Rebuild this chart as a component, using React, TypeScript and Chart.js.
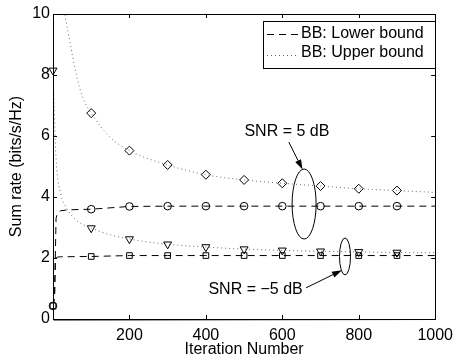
import React, { useEffect, useRef } from "react";
import { Chart, registerables } from "chart.js";

Chart.register(...registerables);

// ---- data ----
const markerIters = [0, 100, 200, 300, 400, 500, 600, 700, 800, 900];
const ub5Markers = [null, 6.75, 5.52, 5.05, 4.73, 4.56, 4.45, 4.36, 4.27, 4.21];
const lb5Markers = [0.43, 3.6, 3.69, 3.7, 3.7, 3.7, 3.7, 3.7, 3.7, 3.7];
const ubm5Markers = [8.15, 2.98, 2.62, 2.45, 2.36, 2.29, 2.25, 2.22, 2.2, 2.18];
const lbm5Markers = [0.43, 2.05, 2.08, 2.08, 2.08, 2.08, 2.08, 2.08, 2.08, 2.08];

const ub5Iters = [26, 31, 44, 61, 78, 100, 150, 200, 300, 400, 500, 600, 700, 800, 900, 1000];
const ub5Curve = [10.5, 10.0, 9.1, 8.0, 7.25, 6.75, 5.95, 5.52, 5.05, 4.73, 4.56, 4.45, 4.36, 4.27, 4.21, 4.15];

const ubm5Iters = [0, 3, 6, 10, 20, 35, 60, 100, 150, 200, 300, 400, 500, 600, 700, 800, 900, 1000];
const ubm5Curve = [8.15, 7.0, 5.8, 4.9, 4.1, 3.65, 3.25, 2.98, 2.76, 2.62, 2.45, 2.36, 2.29, 2.25, 2.22, 2.2, 2.18, 2.17];

const lb5Iters = [0, 4, 6, 8, 12, 20, 40, 100, 200, 300, 400, 500, 600, 700, 800, 900, 1000];
const lb5Curve = [0.43, 0.7, 2.0, 3.3, 3.48, 3.55, 3.58, 3.6, 3.69, 3.7, 3.7, 3.7, 3.7, 3.7, 3.7, 3.7, 3.7];

const lbm5Iters = [0, 4, 6, 8, 12, 20, 100, 200, 300, 400, 500, 600, 700, 800, 900, 1000];
const lbm5Curve = [0.43, 0.7, 1.8, 2.0, 2.03, 2.04, 2.05, 2.08, 2.08, 2.08, 2.08, 2.08, 2.08, 2.08, 2.08, 2.08];

const xTickValues = [200, 400, 600, 800, 1000];
const yTickValues = [0, 2, 4, 6, 8, 10];

const legendLabels = ["BB: Lower bound", "BB: Upper bound"];
const xTitle = "Iteration Number";
const yTitle = "Sum rate (bits/s/Hz)";
const snrHigh = "SNR = 5 dB";
const snrLow = "SNR = \u22125 dB";

const FONT = "Liberation Sans, Arial, Helvetica, sans-serif";
const DOT = "#6a6a6a";

const pts = (xs: number[], ys: (number | null)[]) => xs.map((x, i) => ({ x, y: ys[i] }));

function arrow(ctx: CanvasRenderingContext2D, x1: number, y1: number, x2: number, y2: number) {
  const ang = Math.atan2(y2 - y1, x2 - x1);
  const len = 10, w = 3.2;
  const bx = x2 - len * Math.cos(ang), by = y2 - len * Math.sin(ang);
  ctx.beginPath();
  ctx.moveTo(x1, y1);
  ctx.lineTo(bx, by);
  ctx.stroke();
  ctx.beginPath();
  ctx.moveTo(x2, y2);
  ctx.lineTo(bx + w * Math.sin(ang), by - w * Math.cos(ang));
  ctx.lineTo(bx - w * Math.sin(ang), by + w * Math.cos(ang));
  ctx.closePath();
  ctx.fill();
}

const decorPlugin = {
  id: "decor",
  afterDraw(chart: any) {
    const ctx: CanvasRenderingContext2D = chart.ctx;
    const { left, right, top, bottom } = chart.chartArea;
    const xs = chart.scales.x, ys = chart.scales.y;
    ctx.save();
    ctx.strokeStyle = "#000";
    ctx.fillStyle = "#000";
    ctx.lineWidth = 1;
    ctx.setLineDash([]);
    // box
    ctx.strokeRect(Math.round(left) + 0.5, Math.round(top) + 0.5, Math.round(right - left), Math.round(bottom - top));
    ctx.beginPath();
    ctx.moveTo(Math.round(left) + 0.5, Math.round(top));
    ctx.lineTo(Math.round(left) + 0.5, Math.round(bottom) + 1);
    ctx.lineTo(Math.round(right) + 1, Math.round(bottom) + 0.5);
    ctx.stroke();
    // ticks inside
    const tl = 4;
    ctx.beginPath();
    xTickValues.forEach((v) => {
      const px = Math.round(xs.getPixelForValue(v)) + 0.5;
      ctx.moveTo(px, bottom); ctx.lineTo(px, bottom - tl);
      ctx.moveTo(px, top); ctx.lineTo(px, top + tl);
    });
    yTickValues.forEach((v) => {
      const py = Math.round(ys.getPixelForValue(v)) + 0.5;
      ctx.moveTo(left, py); ctx.lineTo(left + tl, py);
      ctx.moveTo(right, py); ctx.lineTo(right - tl, py);
    });
    ctx.stroke();

    // axis titles
    ctx.font = `16px ${FONT}`;
    ctx.textAlign = "center";
    ctx.textBaseline = "middle";
    ctx.fillText(xTitle, (left + right) / 2, 350);
    ctx.save();
    ctx.translate(17, (top + bottom) / 2);
    ctx.rotate(-Math.PI / 2);
    ctx.fillText(yTitle, 0, 0);
    ctx.restore();

    // legend
    const bx = 263.5, by = 21.5, bw = 172, bh = 47;
    ctx.fillStyle = "#fff";
    ctx.fillRect(bx, by, bw, bh);
    ctx.strokeStyle = "#000";
    ctx.strokeRect(bx, by, bw, bh);
    ctx.fillStyle = "#000";
    ctx.font = `16px ${FONT}`;
    ctx.textAlign = "left";
    const rows = [34, 53];
    ctx.setLineDash([7, 5]);
    ctx.beginPath();
    ctx.moveTo(267, rows[0] + 0.5); ctx.lineTo(299, rows[0] + 0.5);
    ctx.stroke();
    ctx.setLineDash([1, 3]);
    ctx.strokeStyle = DOT;
    ctx.beginPath();
    ctx.moveTo(267, rows[1] + 2.5); ctx.lineTo(299, rows[1] + 2.5);
    ctx.stroke();
    ctx.setLineDash([]);
    ctx.strokeStyle = "#000";
    ctx.fillText(legendLabels[0], 301, rows[0]);
    ctx.fillText(legendLabels[1], 301, rows[1]);

    // annotations
    const X = (v: number) => xs.getPixelForValue(v);
    const Y = (v: number) => ys.getPixelForValue(v);
    ctx.textAlign = "center";
    ctx.font = `16px ${FONT}`;
    ctx.fillText(snrHigh, X(612), Y(6.13));
    ctx.beginPath();
    ctx.ellipse(X(657), Y(3.77), 12, 35, 0, 0, Math.PI * 2);
    ctx.stroke();
    arrow(ctx, X(617), Y(5.8), X(653), Y(4.9));

    ctx.fillText(snrLow, X(530), Y(0.98));
    ctx.beginPath();
    ctx.ellipse(X(764), Y(2.05), 5.5, 18.5, 0, 0, Math.PI * 2);
    ctx.stroke();
    arrow(ctx, X(662), Y(1.02), X(756), Y(1.6));
    ctx.restore();
  },
};

export default function App() {
  const ref = useRef<HTMLCanvasElement | null>(null);
  useEffect(() => {
    document.body.style.margin = "0";
    const canvas = ref.current!;
    const lineBase = { pointRadius: 0, fill: false, borderWidth: 1 };
    const markerBase = {
      showLine: false,
      clip: false,
      borderColor: "#000",
      backgroundColor: "rgba(0,0,0,0)",
      pointBorderWidth: 1,
      pointBackgroundColor: "rgba(0,0,0,0)",
      pointBorderColor: "#000",
    };
    const chart = new Chart(canvas, {
      type: "line",
      data: {
        datasets: [
          { ...lineBase, data: pts(lb5Iters, lb5Curve), borderColor: "#000", borderDash: [7, 5], tension: 0 },
          { ...lineBase, data: pts(lbm5Iters, lbm5Curve), borderColor: "#000", borderDash: [7, 5], tension: 0 },
          { ...lineBase, data: pts(ub5Iters, ub5Curve), borderColor: DOT, borderDash: [1, 3], cubicInterpolationMode: "monotone" },
          { ...lineBase, data: pts(ubm5Iters, ubm5Curve), borderColor: DOT, borderDash: [1, 3], cubicInterpolationMode: "monotone" },
          { ...markerBase, data: pts(markerIters, ub5Markers), pointStyle: "rectRot", pointRadius: 4.5 },
          { ...markerBase, data: pts(markerIters, lb5Markers), pointStyle: "circle", pointRadius: 3.8 },
          { ...markerBase, data: pts(markerIters, ubm5Markers), pointStyle: "triangle", pointRotation: 180, pointRadius: 4.6 },
          { ...markerBase, data: pts(markerIters, lbm5Markers), pointStyle: "rect", pointRadius: 4 },
        ] as any,
      },
      options: {
        animation: false,
        responsive: false,
        maintainAspectRatio: false,
        layout: { padding: { top: 14, right: 20, left: 0, bottom: 0 } },
        plugins: { legend: { display: false }, tooltip: { enabled: false } },
        scales: {
          x: {
            type: "linear",
            min: 0,
            max: 1000,
            grid: { display: false, drawTicks: false },
            border: { display: false },
            ticks: { stepSize: 200, padding: 7, color: "#000", font: { family: FONT, size: 16 }, maxRotation: 0, callback: (v: any) => (v === 0 ? "" : String(v)) },
            afterFit: (s: any) => { s.height = 39; },
          },
          y: {
            min: 0,
            max: 10,
            grid: { display: false, drawTicks: false },
            border: { display: false },
            ticks: { stepSize: 2, padding: 3, color: "#000", font: { family: FONT, size: 16 } },
            afterFit: (s: any) => { s.width = 53; },
          },
        },
      } as any,
      plugins: [decorPlugin],
    });
    return () => chart.destroy();
  }, []);
  return (
    <div style={{ position: "absolute", left: 0, top: 0, width: 460, height: 358 }}>
      <canvas ref={ref} width={460} height={358} />
    </div>
  );
}
